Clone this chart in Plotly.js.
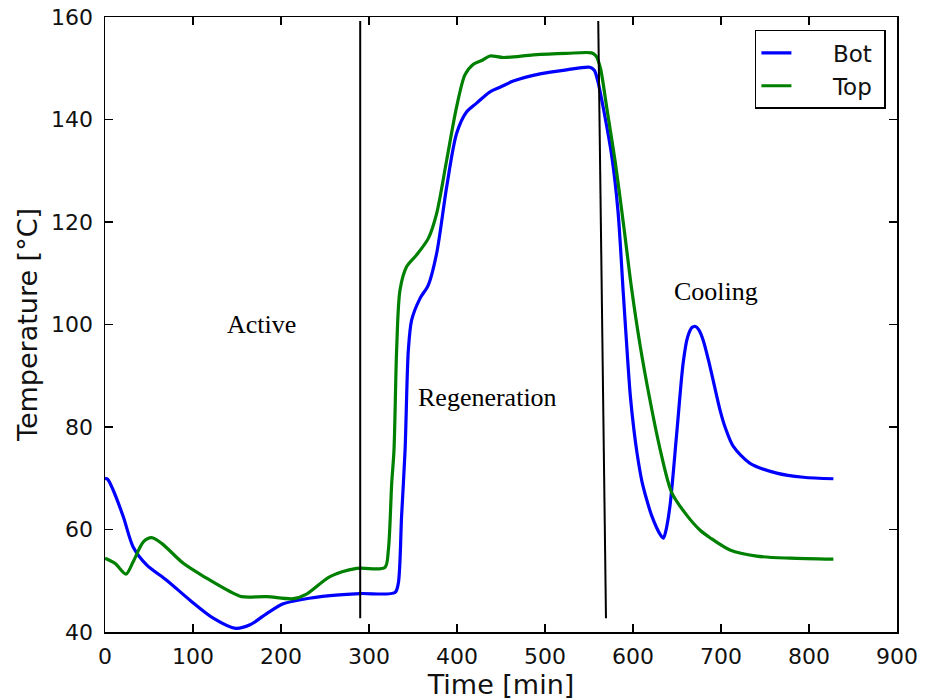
<!DOCTYPE html>
<html>
<head>
<meta charset="utf-8">
<script src="https://cdn.plot.ly/plotly-3.0.1.min.js"></script>
<style>html,body{margin:0;padding:0;background:#fff;}#chart{width:925px;height:700px;}</style>
</head>
<body>
<div id="chart"></div>
<script>
// Bottom sensor (time in min, temperature in °C)
const botTime = [0, 3, 8, 20.8, 32, 47.3, 70, 96.6, 123, 148.5, 164.8, 183.7, 202.6, 225.4, 255.7, 289.8, 329.5, 333.3, 337, 341, 344.7, 348.5, 358, 367.4, 376.9, 388.3, 399.6, 411, 422.3, 437.5, 448.9, 464, 494.3, 524.6, 551, 556, 560, 566, 576, 583, 589, 594, 597, 601, 604.5, 610, 615.6, 621, 627, 631, 634.5, 637, 642, 649.7, 657, 662, 667, 671, 675, 680, 687.5, 698.9, 705, 714, 733, 763.3, 793.6, 827.7];
const botTemp = [70.0, 69.8, 68.2, 62.5, 56.6, 53.1, 50.1, 46.2, 42.7, 40.7, 41.4, 43.6, 45.5, 46.4, 47.1, 47.5, 47.7, 49.5, 62.5, 75.5, 95.0, 100.9, 105.1, 107.7, 113.9, 126.9, 137.3, 141.5, 143.2, 145.4, 146.3, 147.5, 148.9, 149.7, 150.2, 149.6, 147.5, 142.5, 132.7, 122.0, 106.0, 93.0, 86.0, 79.5, 75.0, 69.5, 65.8, 62.8, 60.3, 59.0, 58.3, 59.5, 64.6, 78.8, 92.5, 97.5, 99.4, 99.6, 98.9, 96.8, 91.8, 83.3, 79.8, 76.2, 72.9, 71.0, 70.2, 69.9];

// Top sensor
const topTime = [0, 11.4, 23.9, 32, 43.6, 53, 64.4, 89, 115.5, 142, 155.3, 183.7, 214, 229, 255.7, 286, 318, 322, 325.8, 328.4, 331.4, 335.2, 342.8, 354.2, 367.4, 376.9, 388.3, 399.6, 409, 418.6, 428, 437.5, 452.7, 486.7, 524.6, 553, 558, 563, 570, 580, 590, 598, 608, 619, 631, 644, 661, 676, 687.5, 710.2, 740.5, 778.4, 827.7];
const topTemp = [54.4, 53.4, 51.3, 53.7, 57.6, 58.4, 57.3, 53.4, 50.5, 47.9, 46.9, 46.9, 46.5, 47.4, 50.8, 52.4, 52.6, 56.0, 69.0, 75.5, 95.0, 106.7, 111.3, 113.6, 116.8, 121.7, 132.1, 142.5, 148.7, 150.8, 151.5, 152.4, 152.1, 152.6, 152.9, 153.0, 152.4, 150.0, 142.5, 131.5, 118.5, 107.5, 96.0, 85.5, 75.5, 67.2, 62.8, 59.9, 58.4, 56.0, 54.8, 54.4, 54.2];

// Phase boundary lines
const sep1Time = [290, 290];
const sep1Temp = [159.2, 42.7];
const sep2Time = [560.5, 569.3];
const sep2Temp = [159.2, 42.7];

// Phase labels
const phaseNames = ["Active", "Regeneration", "Cooling"];
const phaseTime = [178, 435, 694];
const phaseTemp = [100.0, 85.7, 106.4];

const seriesNames = ["Bot", "Top"];
const tickX = [0, 100, 200, 300, 400, 500, 600, 700, 800, 900];
const tickY = [40, 60, 80, 100, 120, 140, 160];

const nb = "\u00a0";
const traces = [
  {x: botTime, y: botTemp, mode: "lines", name: nb.repeat(5) + seriesNames[0] + nb,
   line: {color: "#0000ff", width: 3.2, shape: "spline", smoothing: 0.8}},
  {x: topTime, y: topTemp, mode: "lines", name: nb.repeat(5) + seriesNames[1] + nb,
   line: {color: "#008000", width: 3.2, shape: "spline", smoothing: 0.8}},
  {x: sep1Time, y: sep1Temp, mode: "lines", showlegend: false, hoverinfo: "skip",
   line: {color: "#000000", width: 2}},
  {x: sep2Time, y: sep2Temp, mode: "lines", showlegend: false, hoverinfo: "skip",
   line: {color: "#000000", width: 2}}
];

const annotations = phaseNames.map((t, i) => ({
  x: phaseTime[i], y: phaseTemp[i], xref: "x", yref: "y", text: t, showarrow: false,
  font: {family: "Liberation Serif, serif", size: 26, color: "#000"}
}));

const axisCommon = {
  showgrid: false, zeroline: false, showline: true, mirror: "ticks",
  linecolor: "#000", linewidth: 1.5, ticks: "inside", ticklen: 8, tickwidth: 1.2,
  tickcolor: "#000", tickfont: {family: "DejaVu Sans, sans-serif", size: 22, color: "#111"},
  automargin: false
};

const layout = {
  width: 925, height: 700,
  margin: {l: 105, r: 28, t: 17, b: 68},
  paper_bgcolor: "#fff", plot_bgcolor: "#fff",
  xaxis: Object.assign({}, axisCommon, {
    range: [0, 900], tickvals: tickX, ticktext: tickX.map(String),
    ticklabelstandoff: 4,
    title: {text: "Time [min]", font: {family: "DejaVu Sans, sans-serif", size: 27, color: "#111"}, standoff: 3}
  }),
  yaxis: Object.assign({}, axisCommon, {
    range: [40, 160], tickvals: tickY, ticktext: tickY.map(String),
    ticklabelstandoff: 6,
    title: {text: "Temperature [°C]", font: {family: "DejaVu Sans, sans-serif", size: 27, color: "#111"}, standoff: 5}
  }),
  legend: {x: 0.986, xanchor: "right", y: 0.979, yanchor: "top",
    bgcolor: "#fff", bordercolor: "#000", borderwidth: 1.5,
    font: {family: "DejaVu Sans, sans-serif", size: 23, color: "#111"}},
  annotations: annotations,
  showlegend: true
};

Plotly.newPlot("chart", traces, layout, {displayModeBar: false, staticPlot: true});
</script>
</body>
</html>
